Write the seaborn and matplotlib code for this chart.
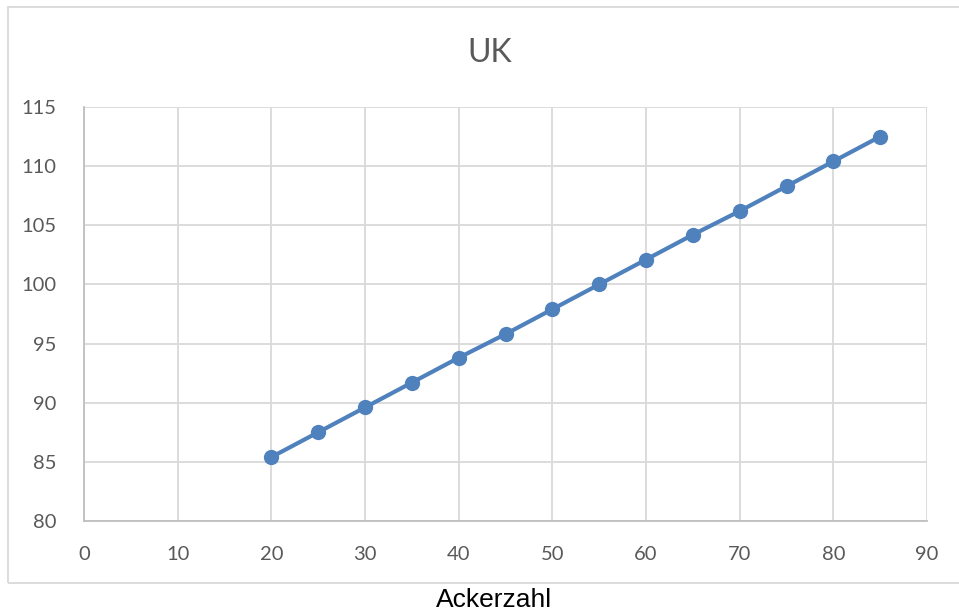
import matplotlib
matplotlib.use("Agg")
import matplotlib.pyplot as plt
import seaborn as sns
import pandas as pd
from matplotlib.patches import Rectangle

# data
ackerzahl = [20, 25, 30, 35, 40, 45, 50, 55, 60, 65, 70, 75, 80, 85]
uk = [85.4, 87.5, 89.6, 91.7, 93.8, 95.8, 97.9, 100.0, 102.1, 104.2, 106.2, 108.3, 110.4, 112.5]
x_ticks = [0, 10, 20, 30, 40, 50, 60, 70, 80, 90]
y_ticks = [80, 85, 90, 95, 100, 105, 110, 115]

df = pd.DataFrame({"Ackerzahl": ackerzahl, "UK": uk})

sns.set_style("white")
plt.rcParams["font.family"] = ["Lato", "DejaVu Sans"]

fig = plt.figure(figsize=(9.59, 6.13), dpi=100)
ax = fig.add_axes([84 / 959, 92 / 613, 843 / 959, 414 / 613])

blue = "#4F81BD"
sns.lineplot(data=df, x="Ackerzahl", y="UK", ax=ax, color=blue, linewidth=3,
             marker="o", markersize=11, markeredgewidth=0, zorder=3)

ax.set_xlim(0, 90)
ax.set_ylim(80, 115)
ax.set_xticks(x_ticks)
ax.set_yticks(y_ticks)
ax.grid(True, color="#D9D9D9", linewidth=1.3)
for s in ["top", "right"]:
    ax.spines[s].set_visible(False)
for s in ["left", "bottom"]:
    ax.spines[s].set_color("#BFBFBF")
    ax.spines[s].set_linewidth(1.3)
ax.tick_params(length=0, labelsize=14.5, labelcolor="#595959")
ax.tick_params(axis="x", pad=18)
ax.tick_params(axis="y", pad=20)
ax.set_xlabel("")
ax.set_ylabel("")

fig.text(490 / 959, 560 / 613, "UK", ha="center", va="center",
         fontsize=23, color="#595959")

# chart border like the Excel chart area
fig.patches.append(Rectangle((8 / 959, 30 / 613), 960 / 959, 576 / 613,
                             transform=fig.transFigure, fill=False,
                             edgecolor="#D9D9D9", linewidth=1.3))

fig.text(494 / 959, 13 / 613, "Ackerzahl", ha="center", va="center",
         fontsize=19, color="black", family=["Liberation Sans", "DejaVu Sans"])

fig.savefig("out.png", dpi=100)
